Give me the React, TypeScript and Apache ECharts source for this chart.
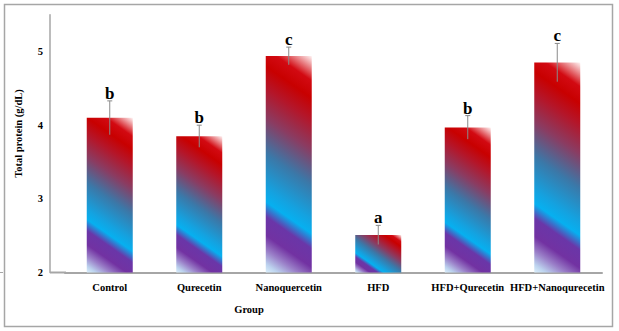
import React, { useEffect, useRef } from "react";
import * as echarts from "echarts";

// Group names on the category axis
const categories = [
  "Control",
  "Qurecetin",
  "Nanoquercetin",
  "HFD",
  "HFD+Qurecetin",
  "HFD+Nanoqurecetin",
];
// Mean total protein (g/dL) per group
const means = [4.1, 3.85, 4.94, 2.51, 3.97, 4.85];
// Error (± SE) per group
const errors = [0.23, 0.15, 0.12, 0.13, 0.16, 0.26];
// Significance letters drawn above each error bar
const letters = ["b", "b", "c", "a", "b", "c"];
// Value axis range
const Y_MIN = 2;
const Y_MAX = 5.5;
const Y_STEP = 1;

const SERIF = '"Liberation Serif", "Times New Roman", serif';

// Fill stops running from the bar's lower-left corner to its upper-right corner
const STOPS = [
  { offset: 0.0, color: "#dcf0fc" },
  { offset: 0.035, color: "#bcd2ee" },
  { offset: 0.09, color: "#9a7fc8" },
  { offset: 0.15, color: "#7232a2" },
  { offset: 0.225, color: "#6a36a8" },
  { offset: 0.285, color: "#06b0f0" },
  { offset: 0.34, color: "#14a2e0" },
  { offset: 0.48, color: "#3b78a8" },
  { offset: 0.62, color: "#8a3c62" },
  { offset: 0.74, color: "#b4162a" },
  { offset: 0.83, color: "#c80000" },
  { offset: 0.9, color: "#d20a12" },
  { offset: 1.0, color: "#fff4f4" },
];
// Unit vector of the fill direction (screen space, pointing up and right)
const DIR = (() => {
  const dx = 0.7;
  const dy = -1;
  const n = Math.hypot(dx, dy);
  return [dx / n, dy / n];
})();
const BAR_WIDTH = 46;

export default function App() {
  const ref = useRef<HTMLDivElement>(null);

  useEffect(() => {
    if (!ref.current) return;
    const chart = echarts.init(ref.current, undefined, { renderer: "svg" });

    const renderItem = (params: any, api: any) => {
      const idx = params.dataIndex;
      const i = api.value(0);
      const m = api.value(1);
      const e = api.value(2);
      const top = api.coord([i, m]);
      const base = api.coord([i, Y_MIN]);
      const hi = api.coord([i, m + e]);
      const lo = api.coord([i, m - e]);
      const w = BAR_WIDTH;
      const x0 = top[0] - w / 2;
      const y0 = top[1];
      const h = base[1] - top[1];
      const cx = x0 + w / 2;
      const cy = y0 + h / 2;
      const L = w * Math.abs(DIR[0]) + h * Math.abs(DIR[1]);
      const fill = {
        type: "linear",
        x: cx - (DIR[0] * L) / 2,
        y: cy - (DIR[1] * L) / 2,
        x2: cx + (DIR[0] * L) / 2,
        y2: cy + (DIR[1] * L) / 2,
        global: true,
        colorStops: STOPS,
      };
      return {
        type: "group",
        children: [
          {
            type: "rect",
            shape: { x: x0, y: y0, width: w, height: h },
            style: { fill },
          },
          {
            type: "line",
            shape: { x1: cx, y1: lo[1], x2: cx, y2: hi[1] },
            style: { stroke: "#8a8a8a", lineWidth: 1 },
          },
          {
            type: "line",
            shape: { x1: cx - 2.5, y1: hi[1], x2: cx + 2.5, y2: hi[1] },
            style: { stroke: "#8a8a8a", lineWidth: 1 },
          },
          {
            type: "text",
            x: cx,
            y: hi[1] + 1,
            style: {
              text: letters[idx],
              font: `bold 17px ${SERIF}`,
              fill: "#000",
              align: "center",
              verticalAlign: "bottom",
            },
          },
        ],
      };
    };

    chart.setOption({
      animation: false,
      backgroundColor: "#ffffff",
      grid: { left: 65, right: 17, top: 14.7, bottom: 58.5 },
      xAxis: {
        type: "category",
        data: categories,
        axisLine: { lineStyle: { color: "#a6a6a6", width: 2 } },
        axisTick: { show: false },
        axisLabel: {
          interval: 0,
          margin: 9,
          color: "#000",
          fontFamily: SERIF,
          fontWeight: "bold",
          fontSize: 10.5,
        },
      },
      yAxis: {
        type: "value",
        min: Y_MIN,
        max: Y_MAX,
        interval: Y_STEP,
        offset: 15,
        axisLine: { show: true, lineStyle: { color: "#a6a6a6", width: 1.5 } },
        axisTick: { show: false },
        splitLine: { show: false },
        axisLabel: {
          margin: 7,
          showMaxLabel: false,
          color: "#000",
          fontFamily: SERIF,
          fontWeight: "bold",
          fontSize: 10.5,
        },
      },
      series: [
        {
          type: "custom",
          renderItem,
          encode: { x: 0, y: 1 },
          data: means.map((m, i) => [i, m, errors[i]]),
        },
      ],
      graphic: [
        {
          type: "rect",
          shape: { x: 4.5, y: 4.5, width: 608, height: 322 },
          style: { fill: "none", stroke: "#a6a6a6", lineWidth: 1.5 },
          silent: true,
        },
        {
          type: "line",
          shape: { x1: 50, y1: 272.5, x2: 66, y2: 272.5 },
          style: { stroke: "#a6a6a6", lineWidth: 2 },
          silent: true,
        },
        {
          type: "line",
          shape: { x1: 0, y1: 272.5, x2: 3, y2: 272.5 },
          style: { stroke: "#a6a6a6", lineWidth: 1 },
          silent: true,
        },
        {
          type: "text",
          x: 18.5,
          y: 133.5,
          rotation: Math.PI / 2,
          style: {
            text: "Total protein (g/dL)",
            font: `bold 10.5px ${SERIF}`,
            fill: "#000",
            align: "center",
            verticalAlign: "middle",
          },
        },
        {
          type: "text",
          x: 249,
          y: 309,
          style: {
            text: "Group",
            font: `bold 10.5px ${SERIF}`,
            fill: "#000",
            align: "center",
            verticalAlign: "middle",
          },
        },
      ],
    });

    return () => chart.dispose();
  }, []);

  return (
    <div
      ref={ref}
      style={{ position: "fixed", left: 0, top: 0, width: 619, height: 331 }}
    />
  );
}
